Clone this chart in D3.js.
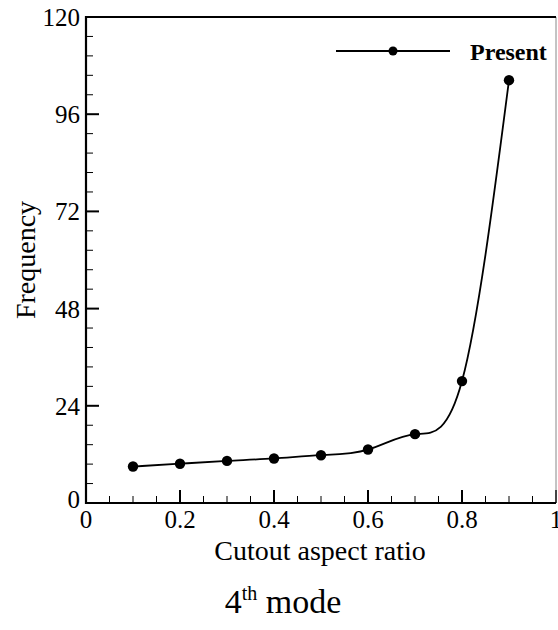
<!DOCTYPE html>
<html>
<head>
<meta charset="utf-8">
<script src="https://cdn.jsdelivr.net/npm/d3@7"></script>
<style>
  body { margin: 0; background: #fff; }
  svg text { font-family: "Liberation Serif", "Times New Roman", serif; fill: #000; }
</style>
</head>
<body>
<div id="chart"></div>
<script>
// data
const ratios = [0.1, 0.2, 0.3, 0.4, 0.5, 0.6, 0.7, 0.8, 0.9];
const frequency = [9.0, 9.7, 10.4, 11.0, 11.8, 13.2, 17.0, 30.1, 104.4];
const xTicks = [0, 0.2, 0.4, 0.6, 0.8, 1];
const yTicks = [0, 24, 48, 72, 96, 120];
const seriesName = 'Present';

const width = 558, height = 630;
const margin = { left: 86, top: 17, right: 2, bottom: 127 };

const svg = d3.select('#chart').append('svg')
  .attr('width', width)
  .attr('height', height);

const x = d3.scaleLinear().domain([0, 1]).range([margin.left, width - margin.right]);
const y = d3.scaleLinear().domain([0, 120]).range([height - margin.bottom, margin.top]);

const x0 = x(0), x1 = x(1), y0 = y(0), y1 = y(120);

// minor ticks (inward)
const xMinor = d3.range(0, 1.0001, 0.05).filter(v => !xTicks.some(t => Math.abs(t - v) < 1e-6));
const yMinor = d3.range(0, 120.001, 4.8).filter(v => !yTicks.some(t => Math.abs(t - v) < 1e-6));

const ticks = svg.append('g').attr('stroke', '#000');
ticks.selectAll('.xmaj').data(xTicks).enter().append('line')
  .attr('x1', d => x(d)).attr('x2', d => x(d))
  .attr('y1', y0).attr('y2', y0 - 13).attr('stroke-width', 2);
ticks.selectAll('.xmin').data(xMinor).enter().append('line')
  .attr('x1', d => x(d)).attr('x2', d => x(d))
  .attr('y1', y0).attr('y2', y0 - 7).attr('stroke-width', 1);
ticks.selectAll('.ymaj').data(yTicks).enter().append('line')
  .attr('x1', x0).attr('x2', x0 + 13)
  .attr('y1', d => y(d)).attr('y2', d => y(d)).attr('stroke-width', 2);
ticks.selectAll('.ymin').data(yMinor).enter().append('line')
  .attr('x1', x0).attr('x2', x0 + 7)
  .attr('y1', d => y(d)).attr('y2', d => y(d)).attr('stroke-width', 1);

// frame: thick left/bottom/top, thin grey right
svg.append('line').attr('x1', x1).attr('x2', x1).attr('y1', y1).attr('y2', y0)
  .attr('stroke', '#888').attr('stroke-width', 1);
svg.append('path')
  .attr('d', `M${x1},${y1}H${x0}V${y0}H${x1}`)
  .attr('fill', 'none').attr('stroke', '#000').attr('stroke-width', 2.2);

// tick labels
svg.selectAll('.xlab').data(xTicks).enter().append('text')
  .attr('x', d => x(d)).attr('y', y0 + 25)
  .attr('text-anchor', 'middle')
  .style('font-size', '25px')
  .text(d => d3.format('~g')(d));

svg.selectAll('.ylab').data(yTicks).enter().append('text')
  .attr('x', x0 - 6).attr('y', d => y(d) + (d === 0 ? 5 : 9))
  .attr('text-anchor', 'end')
  .style('font-size', '25px')
  .text(d => d);

// axis titles
svg.append('text')
  .attr('transform', `translate(35, ${(y0 + y1) / 2}) rotate(-90)`)
  .attr('text-anchor', 'middle')
  .style('font-size', '28px')
  .text('Frequency');

svg.append('text')
  .attr('x', 320).attr('y', 560)
  .attr('text-anchor', 'middle')
  .style('font-size', '28px')
  .text('Cutout aspect ratio');

const mode = svg.append('text')
  .attr('x', 283).attr('y', 613)
  .attr('text-anchor', 'middle')
  .style('font-size', '34px');
mode.append('tspan').text('4');
mode.append('tspan').attr('dy', -13).style('font-size', '20px').text('th');
mode.append('tspan').attr('dy', 13).text(' mode');

// curve
const pts = ratios.map((r, i) => [r, frequency[i]]);
const line = d3.line()
  .x(d => x(d[0]))
  .y(d => y(d[1]))
  .curve(d3.curveNatural);

svg.append('path')
  .datum(pts)
  .attr('d', line)
  .attr('fill', 'none')
  .attr('stroke', '#000')
  .attr('stroke-width', 1.8);

svg.selectAll('.pt').data(pts).enter().append('circle')
  .attr('cx', d => x(d[0])).attr('cy', d => y(d[1]))
  .attr('r', 5.2).attr('fill', '#000');

// legend
const lg = svg.append('g');
lg.append('line')
  .attr('x1', 336).attr('x2', 450).attr('y1', 51).attr('y2', 51)
  .attr('stroke', '#000').attr('stroke-width', 1.8);
lg.append('circle').attr('cx', 393).attr('cy', 51).attr('r', 4.5).attr('fill', '#000');
lg.append('text')
  .attr('x', 470).attr('y', 60)
  .style('font-size', '24px').style('font-weight', 'bold')
  .text(seriesName);
</script>
</body>
</html>
